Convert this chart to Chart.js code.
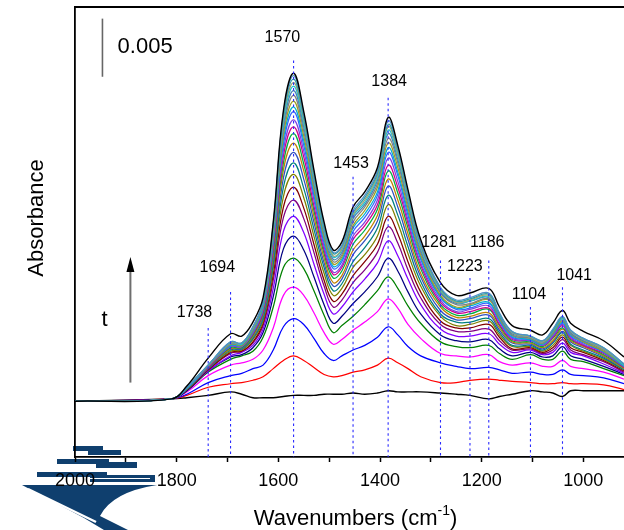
<!DOCTYPE html>
<html><head><meta charset="utf-8">
<script src="https://cdn.jsdelivr.net/npm/chart.js@4.4.0/dist/chart.umd.min.js"></script>
<style>html,body{margin:0;padding:0;background:#fff;overflow:hidden}#wrap{width:624px;height:530px;position:relative}</style>
</head><body><div id="wrap"><canvas id="c" width="624" height="530"></canvas></div>
<script>
// Wavenumbers (cm-1) of the sampled points
const wavenumbers = [2000,1810,1780,1738,1694,1672,1650,1630,1610,1590,1570,1550,1530,1510,1492,1475,1453,1430,1405,1384,1365,1345,1320,1281,1250,1223,1186,1165,1140,1104,1080,1060,1041,1025,1000,960,920];
// Absorbance values in units of 1e-4, spectra recorded with increasing time t
const s00 = [0,2,3,5,8,6,3,3,3,4,5,5,5,6,6,6,7,6,7,9,8,8,8,7,6,5,2,4,6,9,8,7,4,9,9,9,9];
const s01 = [0,2,5,12,15,16,18,21,28,35,39,35,29,23,21,22,25,27,31,37,33,28,21,16,16,18,19,18,17,16,15,15,16,15,15,14,10];
const s02 = [0,2,6,16,22,24,28,31,44,64,71,66,54,41,35,39,44,48,55,64,57,47,39,33,30,28,29,27,24,25,23,23,27,23,22,20,15];
const s03 = [0,2,8,22,31,33,36,44,63,91,98,91,76,59,49,53,61,68,77,88,80,66,54,41,39,38,40,34,31,33,30,30,35,30,28,25,19];
const s04 = [0,2,9,25,36,39,43,55,81,115,123,114,95,74,59,65,73,83,95,107,97,82,67,51,47,46,48,41,36,40,36,36,43,36,34,28,22];
const s05 = [0,2,9,26,38,40,46,59,90,131,142,130,107,83,67,73,84,94,107,123,112,94,75,57,52,51,53,45,39,42,38,39,47,39,36,30,23];
const s06 = [0,2,10,26,39,42,48,62,97,146,159,145,118,92,75,81,94,105,119,138,125,105,83,62,56,56,58,49,42,44,40,42,50,42,39,32,24];
const s07 = [0,2,10,27,41,43,50,65,104,158,173,157,128,99,81,87,102,113,128,150,136,113,89,66,60,60,62,52,44,45,41,44,53,44,40,34,25];
const s08 = [0,2,10,27,42,43,51,67,109,167,184,166,135,104,86,92,108,120,135,159,144,120,94,69,63,63,66,55,45,46,42,46,55,46,42,35,26];
const s09 = [0,2,10,28,43,44,53,69,114,176,195,175,142,110,91,97,115,126,142,169,153,127,99,73,65,66,69,57,47,47,43,48,57,48,43,36,27];
const s10 = [0,2,11,28,44,45,54,71,118,184,205,183,148,115,95,101,120,132,149,177,160,133,103,75,68,68,71,59,48,48,44,50,59,49,44,37,27];
const s11 = [0,2,11,28,45,45,55,73,122,192,214,191,154,119,99,105,126,138,155,185,167,139,107,78,70,71,74,61,50,49,45,51,60,51,46,38,28];
const s12 = [0,2,11,29,45,46,56,75,126,199,222,198,159,123,102,108,130,142,160,191,173,144,110,81,72,73,76,63,51,50,46,52,62,52,47,39,28];
const s13 = [0,2,11,29,46,46,57,76,129,205,230,204,164,127,106,112,135,147,165,198,179,149,114,83,74,75,79,65,52,51,47,54,63,53,48,40,29];
const s14 = [0,2,11,29,47,47,58,77,132,211,236,210,168,130,109,115,139,151,169,203,184,153,117,85,76,77,80,66,53,52,48,55,65,54,48,41,29];
const s15 = [0,2,11,30,47,47,59,79,135,216,242,215,173,133,111,117,142,154,173,209,189,156,119,87,77,79,82,68,54,52,48,56,66,55,49,42,30];
const s16 = [0,2,11,30,48,48,60,80,138,221,249,220,177,136,114,120,146,158,177,214,194,160,122,89,79,80,84,69,55,53,49,57,67,56,50,42,30];
const s17 = [0,2,11,30,48,48,60,81,140,225,253,224,180,139,116,122,149,161,180,218,197,163,124,90,80,82,85,70,56,53,49,58,68,57,51,43,30];
const s18 = [0,2,12,30,49,48,61,82,142,229,258,228,183,141,118,124,151,164,184,222,201,166,126,91,81,83,87,71,57,54,50,58,69,58,51,43,31];
const s19 = [0,2,12,30,49,49,62,83,144,233,263,232,186,143,120,126,154,167,187,226,205,169,128,93,83,84,88,72,57,54,50,59,70,58,52,44,31];
const s20 = [0,2,12,31,50,49,62,84,146,237,267,236,189,146,122,128,157,169,190,230,208,172,130,94,84,86,89,73,58,55,51,60,71,59,52,45,31];
const s21 = [0,2,12,31,50,49,63,84,148,240,271,239,191,147,124,130,159,171,192,233,211,174,132,95,85,86,90,74,59,55,51,60,71,60,53,45,31];
const s22 = [0,2,12,31,50,50,63,85,149,243,274,242,193,149,125,131,160,173,194,236,213,176,133,96,85,87,91,75,59,55,51,61,72,60,53,45,32];
const s23 = [0,2,12,31,51,50,64,85,151,245,277,244,195,150,127,133,162,175,196,238,216,178,135,97,86,88,92,75,60,56,52,61,72,61,54,46,32];
const s24 = [0,2,12,31,51,50,64,86,152,248,280,247,197,152,128,134,164,177,198,241,218,180,136,98,87,89,93,76,60,56,52,62,73,61,54,46,32];
const s25 = [0,2,13,37,58,56,68,89,154,250,282,249,199,154,130,137,167,180,201,244,220,182,139,102,91,93,97,81,65,61,57,67,78,67,60,52,38];
const UNIT = 1e-4;

// Marked band positions (cm-1) and the absorbance (1e-4 units) where each dotted marker starts
const peakBands = [1738,1694,1570,1453,1384,1281,1223,1186,1104,1041];
const peakMarkerTop = [63,94,293,193,261,121,106,121,81,98];
const xTicks = [2000,1900,1800,1700,1600,1500,1400,1300,1200,1100,1000];

const seriesList = [s00,s01,s02,s03,s04,s05,s06,s07,s08,s09,s10,s11,s12,s13,s14,s15,s16,s17,s18,s19,s20,s21,s22,s23,s24,s25];
const palette = ['#000000','#ff0000','#0000ff','#ff00ff','#008000','#000080','#8000ff','#800080','#800000','#808000','#008080','#3050c0','#c08000','#00b040','#d0008a','#8040e0','#3366ff','#00b0d0','#a0a020','#808080','#4682b4','#20c0d0','#a0a070','#30a0a0','#5090c8','#000000'];

// annotation layout (data coordinates)
const annotations = {
  labels: [
    {t:'1738', x:1765, y:76}, {t:'1694', x:1720, y:115}, {t:'1570', x:1592, y:313},
    {t:'1453', x:1457, y:204}, {t:'1384', x:1382, y:275}, {t:'1281', x:1284, y:136},
    {t:'1223', x:1233, y:116}, {t:'1186', x:1189, y:136}, {t:'1104', x:1107, y:92},
    {t:'1041', x:1018, y:108}
  ],
  scaleBar: {x:1946, y0:279, y1:329, text:'0.005', tx:1862, ty:305},
  arrow: {x:1891, y0:16, y1:124, text:'t', tx:1942, ty:70}
};

const FONT = "'Liberation Sans', Arial, sans-serif";

const datasets = [];
peakBands.forEach((wn, i) => {
  datasets.push({data:[{x:wn,y:peakMarkerTop[i]*UNIT},{x:wn,y:-48*UNIT}], borderColor:'#2a2aff', borderWidth:1.1, borderDash:[2.5,3], pointRadius:0, tension:0, fill:false});
});
for (let k = seriesList.length - 1; k >= 0; k--) {
  datasets.push({
    data: wavenumbers.map((w, i) => ({x:w, y:seriesList[k][i]*UNIT})),
    borderColor: palette[k], borderWidth: (k===25||k===0)?1.4:1.25,
    pointRadius:0, tension:0.4, fill:false
  });
}

function drawLogo(ctx){
  ctx.save();
  ctx.fillStyle = '#0f3f6e';
  ctx.fillRect(73,446,30,5); ctx.fillRect(88,450,33,5);
  ctx.fillRect(57,459,52,5); ctx.fillRect(96,462,41,6);
  ctx.fillRect(37,472,70,5); ctx.fillRect(90,475,65,7);
  ctx.beginPath();
  ctx.moveTo(22,485); ctx.lineTo(157,485);
  ctx.quadraticCurveTo(112,492,100,516);
  ctx.lineTo(128,530); ctx.lineTo(104,530); ctx.lineTo(84,518); ctx.closePath();
  ctx.fill();
  ctx.strokeStyle = '#ffffff'; ctx.lineWidth = 2.5;
  ctx.beginPath(); ctx.moveTo(28,489); ctx.lineTo(96,522); ctx.stroke();
  ctx.beginPath(); ctx.moveTo(40,478.5); ctx.lineTo(150,478.5); ctx.lineWidth=1.2; ctx.stroke();
  ctx.restore();
}

const ink = {
  id:'ink',
  beforeDraw(chart){ drawLogo(chart.ctx); },
  afterDraw(chart){
    const ctx = chart.ctx, a = chart.chartArea, X = chart.scales.x, Y = chart.scales.y;
    ctx.save();
    ctx.strokeStyle = '#000'; ctx.lineWidth = 1.8;
    ctx.beginPath(); ctx.moveTo(a.left - 0.9, a.top); ctx.lineTo(a.right, a.top); ctx.stroke();
    ctx.fillStyle = '#000'; ctx.textAlign = 'center'; ctx.textBaseline = 'middle';
    ctx.font = '16px ' + FONT;
    annotations.labels.forEach(l => ctx.fillText(l.t, X.getPixelForValue(l.x), Y.getPixelForValue(l.y*UNIT)));
    const sb = annotations.scaleBar;
    ctx.strokeStyle = '#666'; ctx.lineWidth = 1.6;
    const sx = X.getPixelForValue(sb.x);
    ctx.beginPath(); ctx.moveTo(sx, Y.getPixelForValue(sb.y0*UNIT)); ctx.lineTo(sx, Y.getPixelForValue(sb.y1*UNIT)); ctx.stroke();
    ctx.font = '22px ' + FONT;
    ctx.fillText(sb.text, X.getPixelForValue(sb.tx), Y.getPixelForValue(sb.ty*UNIT));
    const ar = annotations.arrow;
    const ax = X.getPixelForValue(ar.x), ay0 = Y.getPixelForValue(ar.y0*UNIT), ay1 = Y.getPixelForValue(ar.y1*UNIT);
    ctx.strokeStyle = '#6e6e6e'; ctx.lineWidth = 2;
    ctx.beginPath(); ctx.moveTo(ax, ay0); ctx.lineTo(ax, ay1 + 10); ctx.stroke();
    ctx.fillStyle = '#000';
    ctx.beginPath(); ctx.moveTo(ax, ay1); ctx.lineTo(ax - 4, ay1 + 15); ctx.lineTo(ax + 4, ay1 + 15); ctx.closePath(); ctx.fill();
    ctx.font = '22px ' + FONT;
    ctx.fillText(ar.text, X.getPixelForValue(ar.tx), Y.getPixelForValue(ar.ty*UNIT));
    ctx.font = '22px ' + FONT; ctx.textBaseline = 'alphabetic'; ctx.textAlign = 'left';
    const t1 = 'Wavenumbers (cm', sup = '-1', t2 = ')';
    const w1 = ctx.measureText(t1).width; ctx.font = '14px ' + FONT;
    const ws = ctx.measureText(sup).width; ctx.font = '22px ' + FONT;
    const w2 = ctx.measureText(t2).width;
    const cx = (a.left + 624) / 2 + 6;
    let x0 = cx - (w1 + ws + w2) / 2, by = 525;
    ctx.fillText(t1, x0, by);
    ctx.font = '14px ' + FONT; ctx.fillText(sup, x0 + w1, by - 10);
    ctx.font = '22px ' + FONT; ctx.fillText(t2, x0 + w1 + ws, by);
    ctx.save(); ctx.translate(43, 218); ctx.rotate(-Math.PI/2);
    ctx.textAlign = 'center'; ctx.fillText('Absorbance', 0, 0); ctx.restore();
    ctx.restore();
  }
};

new Chart(document.getElementById('c'), {
  type:'line',
  data:{datasets},
  options:{
    responsive:false, animation:false, devicePixelRatio:1,
    layout:{padding:{top:7, right:0, left:0, bottom:0}},
    plugins:{legend:{display:false}, tooltip:{enabled:false}},
    scales:{
      x:{type:'linear', reverse:true, min:920, max:2000,
        afterBuildTicks: s => { s.ticks = xTicks.map(v => ({value:v})); },
        afterFit: s => { s.height = 73; },
        ticks:{autoSkip:false, maxRotation:0, padding:8, color:'#000', font:{size:18, family:FONT},
          callback: v => (v % 200 === 0 ? String(v) : '')},
        grid:{display:true, drawOnChartArea:false, drawTicks:true, tickLength:5, tickColor:'#000', tickWidth:1.5},
        border:{display:true, color:'#000', width:1.8}},
      y:{type:'linear', min:-48*UNIT, max:339*UNIT,
        afterFit: s => { s.width = 75; },
        ticks:{display:false}, grid:{display:false, drawTicks:false},
        border:{display:true, color:'#000', width:1.8}}
    }
  },
  plugins:[ink]
});
</script></body></html>
